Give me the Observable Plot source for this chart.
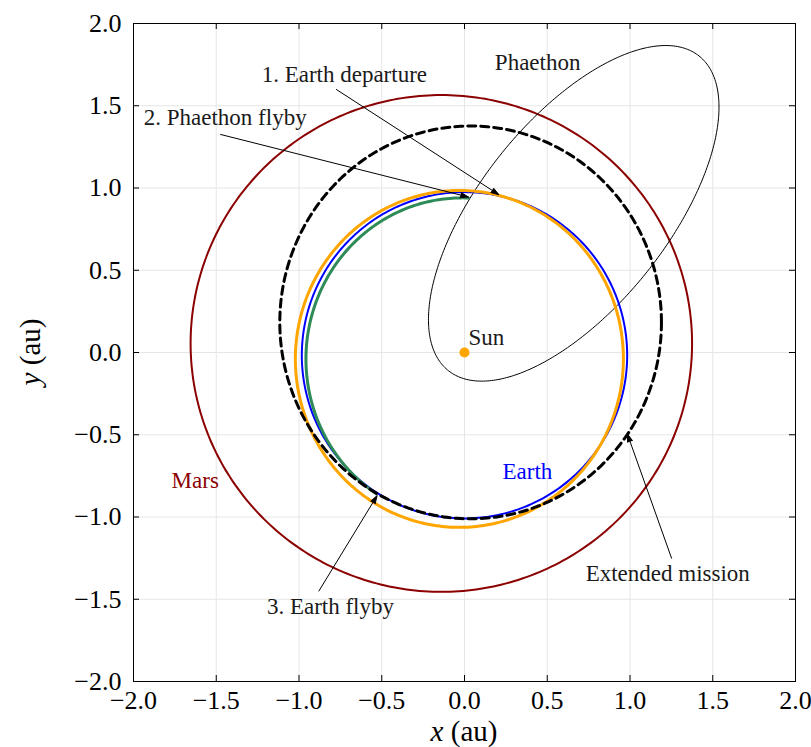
<!DOCTYPE html>
<html><head><meta charset="utf-8">
<script src="https://cdn.jsdelivr.net/npm/d3@7"></script>
<script src="https://cdn.jsdelivr.net/npm/@observablehq/plot@0.6"></script>
<style>body{margin:0;background:#fff} svg{display:block} svg text{font-family:"Liberation Serif","Times New Roman",serif}</style>
</head><body><div id="chart"></div>
<script>
// ---------- data ----------
const xTicks = [-2, -1.5, -1, -0.5, 0, 0.5, 1, 1.5, 2];
const yTicks = [-2, -1.5, -1, -0.5, 0, 0.5, 1, 1.5, 2];

// orbits (au): centre, semi-axes, tilt (deg), drawn arc (deg)
const orbitNames = ["Mars", "Earth", "Initial", "Cruise", "Extended", "Phaethon"];
const orbitCx    = [-0.14, 0.0, -0.031, -0.015, 0.037, 0.66];
const orbitCy    = [0.055, -0.017, -0.039, -0.04, 0.183, 0.846];
const orbitRx    = [1.515, 0.983, 0.991, 0.943, 1.153, 1.22];
const orbitRy    = [1.51, 0.992, 1.024, 0.98, 1.194, 0.568];
const orbitTilt  = [0, 0, 0, 0, 0, 51.7];
const orbitStart = [0, 0, 0, 87.6, 0, 0];
const orbitEnd   = [360, 360, 360, 237.3, 360, 360];

const sunX = [0];
const sunY = [0];

const labelText = ["Phaethon", "Sun", "Earth", "Mars"];
const labelX = [0.442, 0.024, 0.38, -1.627];
const labelY = [1.764, 0.09, -0.724, -0.779];

const annText  = ["1. Earth departure", "2. Phaethon flyby", "3. Earth flyby", "Extended mission"];
const annX     = [-0.726, -1.446, -0.81, 1.228];
const annY     = [1.691, 1.43, -1.545, -1.344];
const annFromX = [-0.776, -1.476, -0.881, 1.252];
const annFromY = [1.60, 1.326, -1.452, -1.253];
const annToX   = [0.208, 0.024, -0.528, 0.984];
const annToY   = [0.959, 0.945, -0.87, -0.495];

// ---------- build ----------
function orbitPoints(i) {
  const pts = [];
  const tilt = orbitTilt[i] * Math.PI / 180;
  for (let a = orbitStart[i]; a <= orbitEnd[i] + 1e-9; a += 1) {
    const t = a * Math.PI / 180;
    const u = orbitRx[i] * Math.cos(t), v = orbitRy[i] * Math.sin(t);
    pts.push({x: orbitCx[i] + u * Math.cos(tilt) - v * Math.sin(tilt),
              y: orbitCy[i] + u * Math.sin(tilt) + v * Math.cos(tilt)});
  }
  return pts;
}
const orbit = Object.fromEntries(orbitNames.map((n, i) => [n, orbitPoints(i)]));
const labels = labelText.map((t, i) => ({t, x: labelX[i], y: labelY[i]}));
const anns = annText.map((t, i) => ({t, x: annX[i], y: annY[i], x1: annFromX[i], y1: annFromY[i], x2: annToX[i], y2: annToY[i]}));
const sun = sunX.map((x, i) => ({x, y: sunY[i]}));

const W = 811, H = 747, mL = 133, mR = 16, mT = 23, mB = 66;
const pw = W - mL - mR, ph = H - mT - mB;
const fmt = d3.format(".1f");
const FONT = "Liberation Serif";
const txt = {fontFamily: FONT, fontSize: 23};

const plot = Plot.plot({
  width: W, height: H,
  marginLeft: mL, marginRight: mR, marginTop: mT, marginBottom: mB,
  x: {domain: [-2, 2]},
  y: {domain: [-2, 2]},
  style: {fontFamily: FONT, background: "white", color: "black"},
  marks: [
    Plot.gridX({ticks: xTicks, stroke: "#e6e6e6", strokeOpacity: 1, strokeWidth: 1}),
    Plot.gridY({ticks: yTicks, stroke: "#e6e6e6", strokeOpacity: 1, strokeWidth: 1}),
    Plot.line(orbit.Mars, {x: "x", y: "y", stroke: "#8b0000", strokeWidth: 2}),
    Plot.line(orbit.Phaethon, {x: "x", y: "y", stroke: "black", strokeWidth: 1}),
    Plot.line(orbit.Earth, {x: "x", y: "y", stroke: "#0000ff", strokeWidth: 2}),
    Plot.line(orbit.Initial, {x: "x", y: "y", stroke: "orange", strokeWidth: 3}),
    Plot.line(orbit.Cruise, {x: "x", y: "y", stroke: "seagreen", strokeWidth: 3}),
    Plot.line(orbit.Extended, {x: "x", y: "y", stroke: "black", strokeWidth: 3, strokeDasharray: "8,5"}),
    Plot.dot(sun, {x: "x", y: "y", r: 5, fill: "orange", stroke: null}),
    Plot.arrow(anns, {x1: "x1", y1: "y1", x2: "x2", y2: "y2", stroke: "black", fill: "black",
      strokeWidth: 1, headLength: 13, headAngle: 36, strokeLinecap: "butt", strokeLinejoin: "miter"}),
    Plot.text(anns, {x: "x", y: "y", text: "t", ...txt, fill: "#1a1a1a", textAnchor: "middle", lineAnchor: "middle"}),
    Plot.text(labels.filter(d => d.t === "Phaethon"), {x: "x", y: "y", text: "t", ...txt, fill: "#1a1a1a"}),
    Plot.text(labels.filter(d => d.t === "Sun"), {x: "x", y: "y", text: "t", ...txt, fill: "#1a1a1a", textAnchor: "start"}),
    Plot.text(labels.filter(d => d.t === "Earth"), {x: "x", y: "y", text: "t", ...txt, fill: "#0000ff"}),
    Plot.text(labels.filter(d => d.t === "Mars"), {x: "x", y: "y", text: "t", ...txt, fill: "#8b0000"}),
    Plot.frame({stroke: "black", strokeWidth: 1}),
    Plot.tickX(xTicks, {x: d => d, stroke: "black", insetTop: ph - 6}),
    Plot.tickX(xTicks, {x: d => d, stroke: "black", insetBottom: ph - 6}),
    Plot.tickY(yTicks, {y: d => d, stroke: "black", insetRight: pw - 6}),
    Plot.tickY(yTicks, {y: d => d, stroke: "black", insetLeft: pw - 6}),
    Plot.axisX({ticks: xTicks, anchor: "bottom", tickSize: 0, tickPadding: 9, tickFormat: fmt, fontSize: 26, fontFamily: FONT, label: null}),
    Plot.axisY({ticks: yTicks, anchor: "left", tickSize: 0, tickPadding: 12, tickFormat: fmt, fontSize: 26, fontFamily: FONT, label: null})
  ]
});

const svg = d3.select(plot);
const xl = svg.append("text").attr("x", mL + pw / 2).attr("y", H - 6)
  .attr("text-anchor", "middle").attr("font-size", 29).attr("font-family", FONT).attr("fill", "black");
xl.append("tspan").attr("font-style", "italic").text("x");
xl.append("tspan").text(" (au)");
const yl = svg.append("text").attr("transform", `translate(40,${mT + ph / 2}) rotate(-90)`)
  .attr("text-anchor", "middle").attr("font-size", 29).attr("font-family", FONT).attr("fill", "black");
yl.append("tspan").attr("font-style", "italic").text("y");
yl.append("tspan").text(" (au)");

document.getElementById("chart").appendChild(plot);
</script>
</body></html>
